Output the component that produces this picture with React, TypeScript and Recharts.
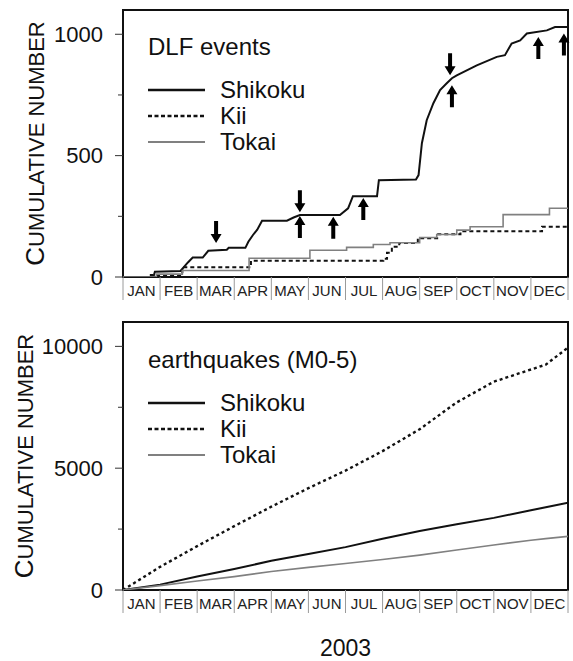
import React from 'react';
import { LineChart, Line, XAxis, YAxis, ReferenceArea, ReferenceDot, Legend } from 'recharts';

const FONT = '"Liberation Sans", Arial, Helvetica, sans-serif';

const MONTHS = ['JAN', 'FEB', 'MAR', 'APR', 'MAY', 'JUN', 'JUL', 'AUG', 'SEP', 'OCT', 'NOV', 'DEC'];
// integer ticks are month boundaries, half ticks carry the month names
const MONTH_TICKS = [0, 0.5, 1, 1.5, 2, 2.5, 3, 3.5, 4, 4.5, 5, 5.5, 6, 6.5, 7, 7.5, 8, 8.5, 9, 9.5, 10, 10.5, 11, 11.5, 12];

// cumulative DLF events, [month, count]
const dlfShikoku = [
  [0, 0], [0.82, 0], [0.86, 22], [1.55, 25], [1.75, 60], [1.88, 80], [2.15, 80], [2.3, 108], [2.8, 112],
  [2.85, 120], [3.3, 120], [3.38, 145], [3.5, 172], [3.62, 195], [3.75, 232], [4.42, 232], [4.6, 245],
  [4.77, 255], [5.85, 255], [6.07, 283], [6.2, 333], [6.85, 333], [6.9, 399], [7.9, 402], [7.97, 420],
  [8.06, 551], [8.19, 646], [8.37, 716], [8.55, 770], [8.73, 798], [8.87, 819], [9.0, 831], [9.54, 872],
  [10.08, 907], [10.3, 914], [10.48, 962], [10.71, 975], [10.89, 1003], [11.43, 1016], [11.65, 1030], [12, 1030],
];
const dlfKii = [
  [0, 0], [0.75, 8], [1.6, 40], [3.45, 67], [7.02, 75], [7.12, 100], [7.25, 125], [7.45, 140], [7.95, 160],
  [8.5, 176], [9.1, 188], [11.3, 207], [12, 207],
];
const dlfTokai = [
  [0, 0], [0.9, 12], [1.6, 27], [3.4, 77], [5.04, 110], [6.03, 122], [6.75, 134], [7.2, 141], [8.0, 163],
  [8.46, 175], [9.0, 193], [9.36, 207], [10.25, 257], [11.5, 283], [12, 283],
];

// tremor episode markers, [month, count at arrow tip]
const downArrows = [[2.51, 140], [4.77, 267], [8.82, 831]];
const upArrows = [[4.77, 251], [5.67, 248], [6.48, 325], [8.87, 790], [11.2, 989], [11.89, 1003]];

// cumulative earthquakes M0-5
const eqMonths = [0, 1, 2, 3, 4, 5, 6, 7, 8, 9, 10, 11, 11.4, 12];
const eqShikoku = [0, 220, 550, 860, 1200, 1480, 1760, 2100, 2420, 2700, 2960, 3270, 3400, 3580];
const eqKii = [0, 950, 1800, 2620, 3420, 4180, 4900, 5700, 6600, 7700, 8550, 9050, 9250, 9950];
const eqTokai = [0, 180, 370, 550, 760, 930, 1090, 1250, 1430, 1640, 1850, 2040, 2110, 2200];

const dlfTicks = [0, 250, 500, 750, 1000];
const dlfLabels = [0, 500, 1000];
const eqTicks = [0, 2500, 5000, 7500, 10000];
const eqLabels = [0, 5000, 10000];

const REGIONS = ['Shikoku', 'Kii', 'Tokai'];
const STYLE: Record<string, { color: string; width: number; dash?: string }> = {
  Shikoku: { color: '#111', width: 2, dash: undefined },
  Kii: { color: '#111', width: 2, dash: '4 3' },
  Tokai: { color: '#808080', width: 1.6, dash: undefined },
};

const toPoints = (rows: number[][]) => rows.map(([m, v]) => ({ m, v }));
const eqData = eqMonths.map((m, i) => ({ m, Shikoku: eqShikoku[i], Kii: eqKii[i], Tokai: eqTokai[i] }));

function MonthTick(props: any) {
  const { x, y, payload } = props;
  const v = payload.value;
  if (Number.isInteger(v)) {
    return <line x1={x} x2={x} y1={y} y2={y + 23} stroke="#9a9a9a" strokeWidth={1} />;
  }
  return (
    <text x={x} y={y + 19} textAnchor="middle" fontSize={15} fill="#222">
      {MONTHS[Math.floor(v)]}
    </text>
  );
}

function makeYTick(labeled: number[]) {
  return (props: any) => {
    const { x, y, payload } = props;
    const major = labeled.includes(payload.value);
    return (
      <g>
        <line x1={x - (major ? 8 : 5)} x2={x} y1={y} y2={y} stroke="#333" strokeWidth={1} />
        {major && (
          <text x={x - 20} y={y} textAnchor="end" dominantBaseline="central" fontSize={22} fill="#111">
            {payload.value}
          </text>
        )}
      </g>
    );
  };
}

const RightTick = (props: any) => (
  <line x1={props.x + 1} x2={props.x + 5} y1={props.y} y2={props.y} stroke="#d4d4d4" strokeWidth={1} />
);

function AxisTitle(props: any) {
  const { viewBox, textX } = props;
  const cy = viewBox.y + viewBox.height / 2;
  return (
    <text x={textX} y={cy} transform={`rotate(-90, ${textX}, ${cy})`} textAnchor="middle" fill="#111">
      <tspan fontSize={26}>C</tspan>
      <tspan fontSize={22}>UMULATIVE NUMBER</tspan>
    </text>
  );
}

function Arrow(props: any) {
  const { cx, cy, dir } = props;
  const s = dir === 'down' ? -1 : 1;
  const pts = [
    [cx, cy], [cx - 5.5, cy + s * 9], [cx - 2, cy + s * 9], [cx - 2, cy + s * 22],
    [cx + 2, cy + s * 22], [cx + 2, cy + s * 9], [cx + 5.5, cy + s * 9],
  ];
  return <polygon points={pts.map((p) => p.join(',')).join(' ')} fill="#000" />;
}

function makeLegend(title: string) {
  return (props: any) => {
    const items = [...props.payload].sort((a: any, b: any) => REGIONS.indexOf(a.value) - REGIONS.indexOf(b.value));
    return (
      <div style={{ fontFamily: FONT, color: '#111' }}>
        <div style={{ fontSize: 24, lineHeight: '28px', height: 28, marginBottom: 16 }}>{title}</div>
        {items.map((entry: any) => {
          const st = STYLE[entry.value];
          return (
            <div key={entry.value} style={{ display: 'flex', alignItems: 'center', height: 26 }}>
              <svg width={57} height={26} style={{ marginRight: 15 }}>
                <line x1={0} x2={57} y1={13} y2={13} stroke={st.color} strokeWidth={st.width + 0.4}
                  strokeDasharray={st.dash ? '4 2.5' : undefined} />
              </svg>
              <span style={{ fontSize: 24, lineHeight: '26px' }}>{entry.value}</span>
            </div>
          );
        })}
      </div>
    );
  };
}

const DlfLegend = makeLegend('DLF events');
const EqLegend = makeLegend('earthquakes (M0-5)');
const dlfYTick = makeYTick(dlfLabels);
const eqYTick = makeYTick(eqLabels);

export default function App() {
  return (
    <div style={{ position: 'absolute', left: 0, top: 0, width: 573, height: 661, background: '#fff', fontFamily: FONT }}>
      <div style={{ position: 'absolute', left: 0, top: 0 }}>
        <LineChart width={573} height={320} margin={{ top: 10, right: 0, bottom: 13, left: 63 }}>
          <XAxis type="number" dataKey="m" domain={[0, 12]} ticks={MONTH_TICKS} interval={0} allowDataOverflow
            tickSize={0} tickMargin={0} tickLine={false} axisLine={false} height={30} tick={MonthTick} />
          <YAxis type="number" domain={[0, 1100]} ticks={dlfTicks} interval={0} width={60} allowDataOverflow
            tickSize={0} tickMargin={0} tickLine={false} axisLine={false} tick={dlfYTick}
            label={<AxisTitle textX={44} />} />
          <YAxis yAxisId="r" orientation="right" type="number" domain={[0, 1100]} ticks={dlfTicks} interval={0}
            width={5} tickSize={0} tickMargin={0} tickLine={false} axisLine={false} tick={RightTick} />
          <Legend layout="vertical" align="center" verticalAlign="middle" content={DlfLegend}
            wrapperStyle={{ left: 148, top: 33, width: 'auto' }} />
          <Line data={toPoints(dlfShikoku)} dataKey="v" name="Shikoku" type="linear" stroke={STYLE.Shikoku.color}
            strokeWidth={STYLE.Shikoku.width} dot={false} isAnimationActive={false} />
          <Line data={toPoints(dlfKii)} dataKey="v" name="Kii" type="stepAfter" stroke={STYLE.Kii.color}
            strokeWidth={STYLE.Kii.width} strokeDasharray={STYLE.Kii.dash} dot={false} isAnimationActive={false} />
          <Line data={toPoints(dlfTokai)} dataKey="v" name="Tokai" type="stepAfter" stroke={STYLE.Tokai.color}
            strokeWidth={STYLE.Tokai.width} dot={false} isAnimationActive={false} />
          {downArrows.map(([m, v], i) => (
            <ReferenceDot key={`d${i}`} x={m} y={v} r={1} shape={(p: any) => <Arrow {...p} dir="down" />} />
          ))}
          {upArrows.map(([m, v], i) => (
            <ReferenceDot key={`u${i}`} x={m} y={v} r={1} shape={(p: any) => <Arrow {...p} dir="up" />} />
          ))}
          <ReferenceArea x1={0} x2={12} y1={0} y2={1100} fill="none" stroke="#111" strokeWidth={2} />
        </LineChart>
      </div>
      <div style={{ position: 'absolute', left: 0, top: 310 }}>
        <LineChart width={573} height={351} data={eqData} margin={{ top: 12, right: 0, bottom: 41, left: 63 }}>
          <XAxis type="number" dataKey="m" domain={[0, 12]} ticks={MONTH_TICKS} interval={0} allowDataOverflow
            tickSize={0} tickMargin={0} tickLine={false} axisLine={false} height={30} tick={MonthTick}
            label={{ value: '2003', position: 'bottom', offset: 20, fontSize: 23, fill: '#111' }} />
          <YAxis type="number" domain={[0, 11000]} ticks={eqTicks} interval={0} width={60} allowDataOverflow
            tickSize={0} tickMargin={0} tickLine={false} axisLine={false} tick={eqYTick}
            label={<AxisTitle textX={33} />} />
          <YAxis yAxisId="r" orientation="right" type="number" domain={[0, 11000]} ticks={eqTicks} interval={0}
            width={5} tickSize={0} tickMargin={0} tickLine={false} axisLine={false} tick={RightTick} />
          <Legend layout="vertical" align="center" verticalAlign="middle" content={EqLegend}
            wrapperStyle={{ left: 148, top: 36, width: 'auto' }} />
          <Line dataKey="Shikoku" type="linear" stroke={STYLE.Shikoku.color} strokeWidth={STYLE.Shikoku.width}
            dot={false} isAnimationActive={false} />
          <Line dataKey="Kii" type="linear" stroke={STYLE.Kii.color} strokeWidth={2.4} strokeDasharray="3 3"
            dot={false} isAnimationActive={false} />
          <Line dataKey="Tokai" type="linear" stroke={STYLE.Tokai.color} strokeWidth={STYLE.Tokai.width}
            dot={false} isAnimationActive={false} />
          <ReferenceArea x1={0} x2={12} y1={0} y2={11000} fill="none" stroke="#111" strokeWidth={2} />
        </LineChart>
      </div>
    </div>
  );
}
